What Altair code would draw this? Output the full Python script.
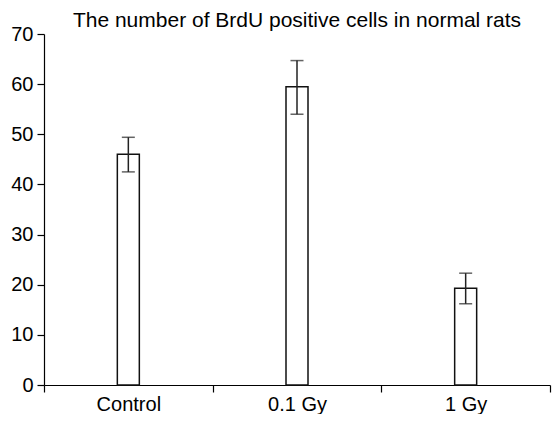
import altair as alt
import pandas as pd

categories = ["Control", "0.1 Gy", "1 Gy"]
means = [46.0, 59.5, 19.3]
err_low = [42.5, 54.0, 16.2]
err_high = [49.4, 64.7, 22.3]

df = pd.DataFrame({"group": categories, "mean": means, "lo": err_low, "hi": err_high})

FONT = "Liberation Sans"

x = alt.X("group:N", sort=categories, title=None,
          scale=alt.Scale(paddingInner=0, paddingOuter=0),
          axis=alt.Axis(labelAngle=0, tickBand="extent", tickSize=7, labelPadding=2,
                        labelFontSize=20, labelFont=FONT, labelColor="#000",
                        domainColor="#000", tickColor="#000", domainWidth=1.2, tickWidth=1.2))
y = alt.Y("mean:Q", title=None,
          scale=alt.Scale(domain=[0, 70], nice=False),
          axis=alt.Axis(values=[0, 10, 20, 30, 40, 50, 60, 70], grid=False, tickSize=7,
                        labelPadding=4, labelFontSize=20, labelFont=FONT, labelColor="#000",
                        domainColor="#000", tickColor="#000", domainWidth=1.2, tickWidth=1.2))

bars = alt.Chart(df).mark_bar(size=22, fill="white", stroke="#111", strokeWidth=1.5).encode(x=x, y=y)
rule = alt.Chart(df).mark_rule(color="#222", strokeWidth=1.5).encode(
    x=alt.X("group:N", sort=categories), y="lo:Q", y2="hi:Q")
cap_hi = alt.Chart(df).mark_tick(color="#222", size=13, thickness=1.5).encode(
    x=alt.X("group:N", sort=categories), y="hi:Q")
cap_lo = alt.Chart(df).mark_tick(color="#222", size=13, thickness=1.5).encode(
    x=alt.X("group:N", sort=categories), y="lo:Q")

chart = alt.layer(bars, rule, cap_hi, cap_lo).properties(
    width=506, height=351,
    title=alt.TitleParams("The number of BrdU positive cells in normal rats",
                          fontSize=21, font=FONT, fontWeight="normal", color="#000",
                          anchor="middle", frame="group", offset=0, dy=7),
    autosize=alt.AutoSizeParams(type="none"),
    padding={"left": 36, "top": 26, "right": 2, "bottom": 29},
).configure_view(stroke=None)

chart.save("out.html", embed_options={"renderer": "svg", "actions": False})
